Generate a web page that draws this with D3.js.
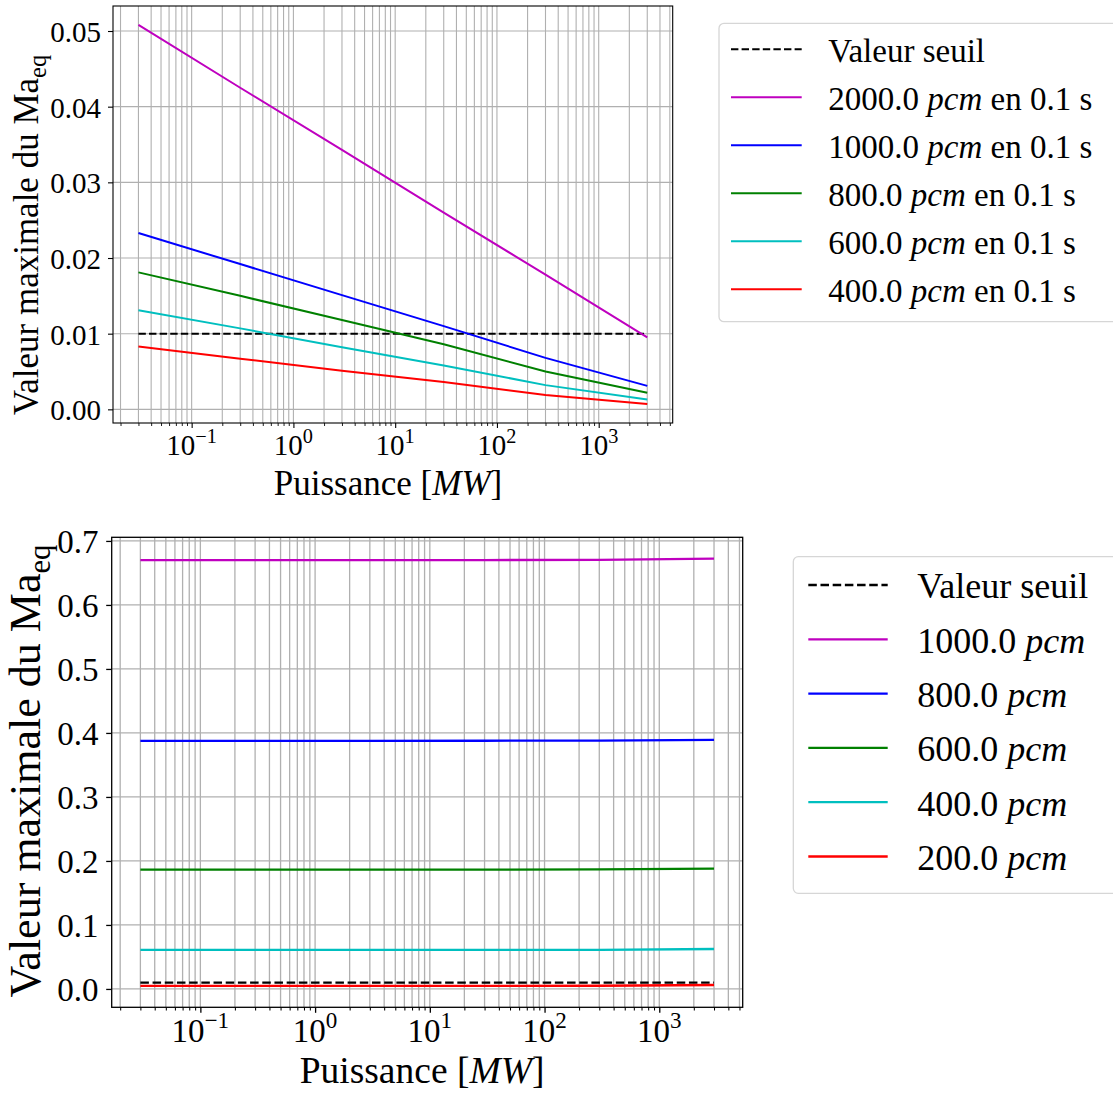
<!DOCTYPE html>
<html><head><meta charset="utf-8">
<script src="https://cdn.jsdelivr.net/npm/d3@7"></script>
<style>
html,body{margin:0;padding:0;background:#fff;}
svg text{font-family:"Liberation Serif","DejaVu Serif",serif;fill:#000;}
</style></head>
<body>
<svg id="chart" width="1113" height="1099"></svg>
<script>
// ---- data ----
const xPower = [0.03, 0.3, 3, 30, 300, 3000];
const threshold = 0.01;
const thresholdLabel = "Valeur seuil";
const seriesColors = ["#bf00bf", "#0000ff", "#008000", "#00bfbf", "#ff0000"];

const topLabels = ["2000.0", "1000.0", "800.0", "600.0", "400.0"];
const top2000 = [0.0508, 0.0425, 0.0343, 0.0260, 0.0178, 0.0095];
const top1000 = [0.0233, 0.0192, 0.0151, 0.0110, 0.0068, 0.0031];
const top800  = [0.0181, 0.0150, 0.0118, 0.0086, 0.0050, 0.0022];
const top600  = [0.0131, 0.0107, 0.0082, 0.0058, 0.0032, 0.0013];
const top400  = [0.0083, 0.0067, 0.0051, 0.0036, 0.0019, 0.0007];
const topYTicks = [0.00, 0.01, 0.02, 0.03, 0.04, 0.05];

const bottomLabels = ["1000.0", "800.0", "600.0", "400.0", "200.0"];
const bot1000 = [0.6700, 0.6700, 0.6700, 0.6701, 0.6705, 0.6723];
const bot800  = [0.3877, 0.3877, 0.3877, 0.3878, 0.3881, 0.3893];
const bot600  = [0.1863, 0.1863, 0.1863, 0.1864, 0.1867, 0.1880];
const bot400  = [0.0609, 0.0609, 0.0609, 0.0610, 0.0612, 0.0624];
const bot200  = [0.0047, 0.0047, 0.0047, 0.0048, 0.0050, 0.0062];
const bottomYTicks = [0.0, 0.1, 0.2, 0.3, 0.4, 0.5, 0.6, 0.7];

const xMajorTicks = [0.1, 1, 10, 100, 1000];
const xLabel = "Puissance";
const yLabel = "Valeur maximale du Ma";

const svg = d3.select("#chart");

function drawPanel(cfg) {
  const g = svg.append("g");
  const all = cfg.series.flat().concat([threshold]);
  const ymin = d3.min(all), ymax = d3.max(all);
  const yPad = (ymax - ymin) * 0.05;
  const lx0 = Math.log10(d3.min(xPower)), lx1 = Math.log10(d3.max(xPower));
  const xPad = (lx1 - lx0) * 0.05;
  const xDom = [Math.pow(10, lx0 - xPad), Math.pow(10, lx1 + xPad)];
  const x = d3.scaleLog().domain(xDom).range([cfg.left, cfg.right]);
  const y = d3.scaleLinear().domain([ymin - yPad, ymax + yPad]).range([cfg.bottom, cfg.top]);

  // minor tick values
  const minor = [];
  for (let d = Math.floor(Math.log10(xDom[0])); d <= Math.ceil(Math.log10(xDom[1])); d++) {
    for (let k = 2; k <= 9; k++) {
      const v = k * Math.pow(10, d);
      if (v >= xDom[0] && v <= xDom[1]) minor.push(v);
    }
  }
  // grid
  const grid = g.append("g").attr("stroke", "#b0b0b0").attr("stroke-width", cfg.gridW);
  grid.selectAll("line.vx").data(minor.concat(xMajorTicks)).enter().append("line")
    .attr("x1", d => x(d)).attr("x2", d => x(d)).attr("y1", cfg.top).attr("y2", cfg.bottom);
  grid.selectAll("line.hy").data(cfg.yTicks).enter().append("line")
    .attr("x1", cfg.left).attr("x2", cfg.right).attr("y1", d => y(d)).attr("y2", d => y(d));

  // threshold
  const line = d3.line().x((d, i) => x(xPower[i])).y(d => y(d));
  g.append("path").datum(xPower.map(() => threshold)).attr("d", line)
    .attr("fill", "none").attr("stroke", "#000").attr("stroke-width", cfg.lineW)
    .attr("stroke-dasharray", `${3.7 * cfg.lineW},${1.6 * cfg.lineW}`);
  // series
  cfg.series.forEach((s, i) => {
    g.append("path").datum(s).attr("d", line).attr("fill", "none")
      .attr("stroke", seriesColors[i]).attr("stroke-width", cfg.lineW)
      .attr("stroke-linejoin", "round");
  });

  // frame
  g.append("rect").attr("x", cfg.left).attr("y", cfg.top)
    .attr("width", cfg.right - cfg.left).attr("height", cfg.bottom - cfg.top)
    .attr("fill", "none").attr("stroke", "#000").attr("stroke-width", cfg.spineW);

  // x axis ticks
  const xAxisMinor = d3.axisBottom(x).tickValues(minor).tickSize(cfg.minorLen).tickFormat("");
  const gm = g.append("g").attr("transform", `translate(0,${cfg.bottom})`).call(xAxisMinor);
  gm.select(".domain").remove();
  gm.selectAll("line").attr("stroke-width", cfg.spineW * 0.8);
  const xAxisMajor = d3.axisBottom(x).tickValues(xMajorTicks).tickSize(cfg.majorLen).tickFormat("");
  const gM = g.append("g").attr("transform", `translate(0,${cfg.bottom})`).call(xAxisMajor);
  gM.select(".domain").remove();
  gM.selectAll("line").attr("stroke-width", cfg.spineW);
  // x tick labels 10^n
  xMajorTicks.forEach(v => {
    const e = Math.round(Math.log10(v));
    const t = g.append("text").attr("x", x(v)).attr("y", cfg.xTickBase)
      .attr("text-anchor", "middle").attr("font-size", cfg.tickFs);
    t.append("tspan").text("10");
    t.append("tspan").attr("font-size", cfg.tickFs * 0.7).attr("dy", -cfg.tickFs * 0.42)
      .text(e < 0 ? "\u2212" + (-e) : String(e));
  });

  // y axis
  const yAxis = d3.axisLeft(y).tickValues(cfg.yTicks).tickSize(cfg.majorLen).tickFormat("");
  const gy = g.append("g").attr("transform", `translate(${cfg.left},0)`).call(yAxis);
  gy.select(".domain").remove();
  gy.selectAll("line").attr("stroke-width", cfg.spineW);
  cfg.yTicks.forEach(v => {
    g.append("text").attr("x", cfg.yTickRight).attr("y", y(v) + cfg.tickFs * 0.38)
      .attr("text-anchor", "end").attr("font-size", cfg.tickFs).text(d3.format(cfg.yFmt)(v));
  });

  // axis labels
  const xl = g.append("text").attr("x", cfg.xLabelX).attr("y", cfg.xLabelBase)
    .attr("text-anchor", "middle").attr("font-size", cfg.xLabelFs);
  xl.append("tspan").text(xLabel + " [");
  xl.append("tspan").attr("font-style", "italic").text("MW");
  xl.append("tspan").text("]");

  const yl = g.append("text").attr("transform", `translate(${cfg.yLabelX},${cfg.yLabelY}) rotate(-90)`)
    .attr("text-anchor", "middle").attr("font-size", cfg.yLabelFs);
  yl.append("tspan").text(yLabel);
  yl.append("tspan").attr("font-size", cfg.yLabelFs * 0.7).attr("dy", cfg.yLabelFs * 0.22).text("eq");

  // legend
  const L = cfg.legend;
  g.append("rect").attr("x", L.x).attr("y", L.y).attr("width", L.w).attr("height", L.h)
    .attr("rx", 5).attr("fill", "#fff").attr("stroke", "#d6d6d6").attr("stroke-width", 1.3);
  const entries = [{label: thresholdLabel, color: "#000", dash: true}]
    .concat(cfg.labels.map((l, i) => ({label: l, color: seriesColors[i], dash: false})));
  entries.forEach((en, i) => {
    const yy = L.row0 + i * L.step;
    g.append("line").attr("x1", L.hx0).attr("x2", L.hx1).attr("y1", yy).attr("y2", yy)
      .attr("stroke", en.color).attr("stroke-width", cfg.lineW)
      .attr("stroke-dasharray", en.dash ? `${3.7 * cfg.lineW},${1.6 * cfg.lineW}` : null);
    const t = g.append("text").attr("x", L.tx).attr("y", yy + L.fs * 0.37).attr("font-size", L.fs);
    if (en.dash) { t.text(en.label); }
    else {
      t.append("tspan").text(en.label + " ");
      t.append("tspan").attr("font-style", "italic").text("pcm");
      if (cfg.suffix) t.append("tspan").text(cfg.suffix);
    }
  });
}

drawPanel({
  left: 113, right: 672.7, top: 6, bottom: 423,
  series: [top2000, top1000, top800, top600, top400],
  labels: topLabels, suffix: " en 0.1 s",
  yTicks: topYTicks, yFmt: ".2f",
  lineW: 2, gridW: 1.1, spineW: 1.1, majorLen: 5, minorLen: 3,
  tickFs: 29, xTickBase: 455, yTickRight: 101,
  xLabelFs: 35, yLabelFs: 35, xLabelX: 388, xLabelBase: 495, yLabelX: 38, yLabelY: 235,
  legend: {x: 719, y: 23.3, w: 420, h: 298.4, row0: 49.3, step: 48, hx0: 731, hx1: 801.7, tx: 828.3, fs: 33}
});

drawPanel({
  left: 111.7, right: 742.7, top: 537.3, bottom: 1007.3,
  series: [bot1000, bot800, bot600, bot400, bot200],
  labels: bottomLabels, suffix: "",
  yTicks: bottomYTicks, yFmt: ".1f",
  lineW: 2.3, gridW: 1.3, spineW: 1.3, majorLen: 5.5, minorLen: 3.2,
  tickFs: 33, xTickBase: 1042, yTickRight: 98.5,
  xLabelFs: 37.5, yLabelFs: 44, xLabelX: 422, xLabelBase: 1083, yLabelX: 40, yLabelY: 771,
  legend: {x: 793.3, y: 556.7, w: 340, h: 336.6, row0: 585, step: 54.3, hx0: 808.3, hx1: 887.7, tx: 917.3, fs: 36}
});
</script>
</body></html>
